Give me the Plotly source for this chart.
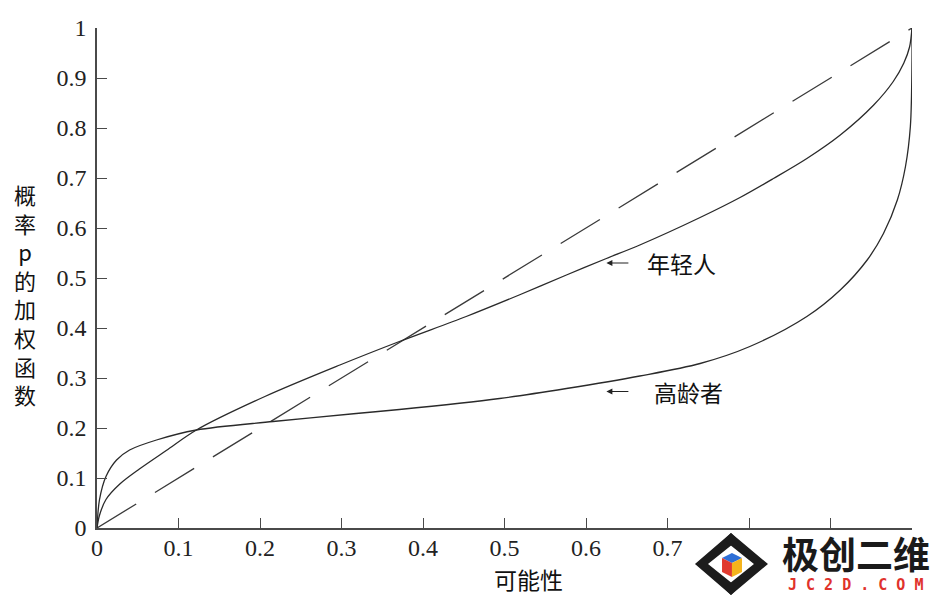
import plotly.graph_objects as go

# ---- data ----
x_diag = [0, 1]
p_diag = [0, 1]

x_young = [0, 0.003, 0.011, 0.028, 0.052, 0.085, 0.122, 0.206, 0.298, 0.371, 0.453,
           0.518, 0.576, 0.625, 0.666, 0.74, 0.789, 0.830, 0.871, 0.912, 0.953,
           0.977, 0.990, 0.997, 1.0]
p_young = [0, 0.025, 0.057, 0.088, 0.118, 0.155, 0.196, 0.263, 0.326, 0.373, 0.423,
           0.466, 0.506, 0.539, 0.566, 0.621, 0.661, 0.699, 0.739, 0.786, 0.846,
           0.893, 0.930, 0.962, 1.0]

x_old = [0, 0.003, 0.011, 0.024, 0.040, 0.073, 0.122, 0.216, 0.318, 0.371, 0.494,
         0.576, 0.666, 0.74, 0.801, 0.871, 0.912, 0.945, 0.965, 0.982, 0.992, 0.998,
         1.0, 1.0]
p_old = [0, 0.056, 0.103, 0.136, 0.156, 0.176, 0.196, 0.213, 0.229, 0.237, 0.259,
         0.279, 0.304, 0.329, 0.363, 0.423, 0.476, 0.536, 0.589, 0.656, 0.723, 0.803,
         0.936, 1.0]

y_tickvals = [0, 0.1, 0.2, 0.3, 0.4, 0.5, 0.6, 0.7, 0.8, 0.9, 1]
y_ticktext = ["0", "0.1", "0.2", "0.3", "0.4", "0.5", "0.6", "0.7", "0.8", "0.9", "1"]
x_tickvals = [0, 0.1, 0.2, 0.3, 0.4, 0.5, 0.6, 0.7, 0.8, 0.9, 1]
x_ticktext = ["0", "0.1", "0.2", "0.3", "0.4", "0.5", "0.6", "0.7", "", "", ""]

label_young = "年轻人"
label_old = "高龄者"
label_young_at = (0.625, 0.530)
label_old_at = (0.625, 0.273)

x_title = "可能性"
y_title_chars = ["概", "率", "p", "的", "加", "权", "函", "数"]

LINE = "#2a2a2a"
SERIF = "Liberation Serif, Times New Roman, serif"
CJK = "Noto Sans CJK SC, Noto Sans, sans-serif"

fig = go.Figure()
fig.add_trace(go.Scatter(x=x_diag, y=p_diag, mode="lines",
                         line=dict(color="#3a3a3a", width=1.3, dash="46px,22px"),
                         hoverinfo="skip", showlegend=False))
fig.add_trace(go.Scatter(x=x_young, y=p_young, mode="lines",
                         line=dict(color=LINE, width=1.3, shape="spline", smoothing=0.9),
                         showlegend=False))
fig.add_trace(go.Scatter(x=x_old, y=p_old, mode="lines",
                         line=dict(color=LINE, width=1.3, shape="spline", smoothing=0.9),
                         showlegend=False))

axis_common = dict(
    showgrid=False, zeroline=False, showline=True, linecolor="#4a4a4a", linewidth=1.6,
    ticks="inside", ticklen=10, tickwidth=1.3, tickcolor="#4a4a4a",
    tickfont=dict(family=SERIF, size=24, color="#222222"),
)

L, R, T, B = 97, 28, 28, 70
PW, PH = 940 - L - R, 598 - T - B

fig.update_layout(
    width=940, height=598,
    margin=dict(l=L, r=R, t=T, b=B, autoexpand=False),
    paper_bgcolor="white", plot_bgcolor="white",
    xaxis=dict(range=[0, 1], tickvals=x_tickvals, ticktext=x_ticktext,
               ticklabelstandoff=-3, **axis_common),
    yaxis=dict(range=[0, 1], tickvals=y_tickvals, ticktext=y_ticktext,
               ticklabelstandoff=4, **axis_common),
)

# labels with arrows
for (lx, ly), txt, dx in [(label_young_at, label_young, 0.047),
                          (label_old_at, label_old, 0.056)]:
    fig.add_annotation(x=lx, y=ly, xref="x", yref="y", text=" ",
                       showarrow=True, arrowhead=2, arrowsize=1, arrowwidth=1.2,
                       arrowcolor="#222222", ax=25, ay=0)
    fig.add_annotation(x=lx + dx, y=ly, xref="x", yref="y", text=txt,
                       showarrow=False, xanchor="left", yanchor="middle",
                       font=dict(family=CJK, size=23, color="#111111"))


def px(xp, yp):
    return ((xp - L) / PW, (598 - B - yp) / PH)


# axis titles
u, v = px(528, 579)
fig.add_annotation(x=u, y=v, xref="paper", yref="paper", text=x_title,
                   showarrow=False, xanchor="center", yanchor="middle",
                   font=dict(family=CJK, size=23, color="#111111"))
u, v = px(25, 294)
fig.add_annotation(x=u, y=v, xref="paper", yref="paper",
                   text="<br>".join(y_title_chars), showarrow=False,
                   xanchor="center", yanchor="middle", align="center",
                   font=dict(family=CJK, size=22, color="#111111"))


# watermark (decoration)
def path(points):
    s = ""
    for i, (a, b) in enumerate(points):
        uu, vv = px(a, b)
        s += ("M" if i == 0 else "L") + f"{uu:.4f},{vv:.4f} "
    return s + "Z"


for pts in [
    [(731, 533), (738, 540), (708, 564), (738, 588), (731, 595), (695, 564)],
    [(731, 533), (724, 540), (754, 564), (724, 588), (731, 595), (768, 564)],
]:
    fig.add_shape(type="path", xref="paper", yref="paper", path=path(pts),
                  fillcolor="#1c1c1c", line=dict(width=0), layer="above")
cube = [
    ([(732, 553), (742, 558), (732, 563), (722, 558)], "#2f6fd6"),
    ([(722, 558), (732, 563), (732, 577), (722, 572)], "#e03a2f"),
    ([(742, 558), (732, 563), (732, 577), (742, 572)], "#f5b41c"),
]
for pts, col in cube:
    fig.add_shape(type="path", xref="paper", yref="paper", path=path(pts),
                  fillcolor=col, line=dict(width=0), layer="above")

u, v = px(856, 553)
fig.add_annotation(x=u, y=v, xref="paper", yref="paper", text="<b>极创二维</b>",
                   showarrow=False, xanchor="center", yanchor="middle",
                   font=dict(family=CJK, size=37, color="#1a1a1a"))
u, v = px(855, 585)
fig.add_annotation(x=u, y=v, xref="paper", yref="paper", text="<b>J C 2 D . C O M</b>",
                   showarrow=False, xanchor="center", yanchor="middle",
                   font=dict(family="DejaVu Sans Mono, monospace", size=15, color="#e0322b"))

fig.write_html("out.html", config={"displayModeBar": False},
               post_script="document.body.style.margin='0px';document.body.style.overflow='hidden';")
